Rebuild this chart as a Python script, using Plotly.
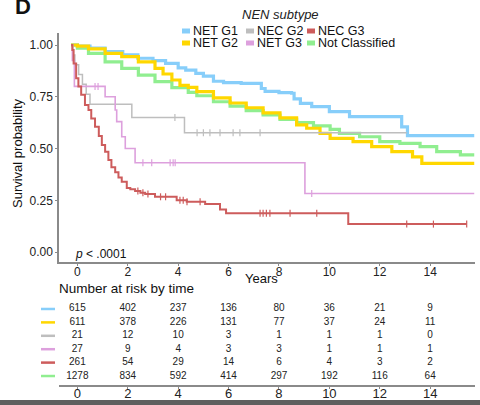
import numpy as np
import plotly.graph_objects as go

W, H = 480, 405
FONT = "Liberation Sans, Arial, sans-serif"

groups = ["NET G1", "NET G2", "NEC G2", "NET G3", "NEC G3", "Not Classified"]
colors = ["#87CEFA", "#FFD700", "#BEBEBE", "#DDA0DD", "#CD5C5C", "#90EE90"]

# Kaplan-Meier step points (years, survival)
t_net_g1 = [-0.25, 0.0, 0.5, 1.1, 1.8, 2.4, 3.0, 3.5, 4.0, 4.3, 4.7, 5.0, 5.4, 5.8, 6.5,
            7.3, 7.45, 8.0, 8.5, 8.6, 8.85, 9.3, 10.0, 10.8, 12.87, 13.1, 15.75]
s_net_g1 = [1.0, 0.995, 0.985, 0.968, 0.952, 0.936, 0.925, 0.911, 0.89, 0.879, 0.863, 0.85,
            0.825, 0.818, 0.815, 0.79, 0.776, 0.77, 0.767, 0.74, 0.718, 0.702, 0.678, 0.654,
            0.605, 0.562, 0.562]

t_net_g2 = [-0.25, 0.0, 0.44, 1.1, 1.76, 2.42, 3.08, 3.4, 3.75, 4.07, 4.4, 4.74, 5.4, 6.06,
            6.7, 7.37, 8.04, 8.7, 9.1, 9.63, 10.03, 10.94, 11.68, 12.48, 13.3, 13.67, 15.75]
s_net_g2 = [1.0, 0.995, 0.981, 0.96, 0.944, 0.919, 0.887, 0.86, 0.831, 0.805, 0.795, 0.775,
            0.745, 0.72, 0.697, 0.672, 0.648, 0.614, 0.598, 0.573, 0.549, 0.533, 0.509,
            0.485, 0.46, 0.428, 0.428]

t_nec_g2 = [-0.25, -0.18, -0.1, 0.05, 0.2, 0.35, 0.5, 2.16, 4.25, 13.07]
s_nec_g2 = [1.0, 0.952, 0.905, 0.857, 0.81, 0.762, 0.714, 0.65, 0.576, 0.576]

t_net_g3 = [-0.25, -0.2, -0.12, 1.1, 1.5, 1.56, 1.76, 1.9, 2.29, 9.03, 15.75]
s_net_g3 = [1.0, 0.926, 0.80, 0.75, 0.686, 0.63, 0.557, 0.50, 0.431, 0.283, 0.283]

t_nec_g3 = [-0.25, -0.2, -0.15, -0.05, 0.04, 0.15, 0.3, 0.44, 0.55, 0.7, 0.85, 0.97, 1.1,
            1.23, 1.35, 1.5, 1.63, 1.76, 1.96, 2.1, 2.29, 2.5, 2.69, 3.08, 3.94, 4.34, 5.07,
            5.66, 5.9, 10.75, 15.45]
s_nec_g3 = [1.0, 0.976, 0.911, 0.84, 0.8, 0.76, 0.71, 0.686, 0.645, 0.605, 0.56, 0.517,
            0.485, 0.445, 0.41, 0.385, 0.36, 0.34, 0.31, 0.303, 0.295, 0.287, 0.28, 0.267,
            0.25, 0.243, 0.232, 0.205, 0.187, 0.135, 0.135]

t_not_cls = [-0.25, 0.0, 0.44, 1.1, 1.76, 2.42, 3.08, 3.75, 4.4, 4.74, 5.4, 6.06, 6.7, 7.37,
             8.04, 8.7, 9.37, 10.03, 10.4, 11.2, 12.0, 12.8, 13.6, 14.26, 15.2, 15.75]
s_not_cls = [1.0, 0.985, 0.96, 0.919, 0.887, 0.855, 0.823, 0.794, 0.771, 0.755, 0.726, 0.705,
             0.683, 0.662, 0.641, 0.625, 0.609, 0.593, 0.573, 0.557, 0.533, 0.525, 0.509,
             0.485, 0.469, 0.469]

# censor marks (years) visible on the smaller groups
c_nec_g2 = [3.87, 4.75, 5.0, 5.26, 5.66, 6.18, 6.45, 7.25]
c_net_g3 = [0.7, 0.82, 2.6, 2.95, 3.68, 3.8, 3.88, 9.3]
c_nec_g3 = [2.4, 2.6, 2.8, 3.3, 3.5, 4.07, 4.2, 4.35, 4.87, 7.25, 7.37, 7.5, 7.64, 8.44,
            9.5, 13.07, 14.13, 15.45]

risk_times = [0, 2, 4, 6, 8, 10, 12, 14]
risk_net_g1 = [615, 402, 237, 136, 80, 36, 21, 9]
risk_net_g2 = [611, 378, 226, 131, 77, 37, 24, 11]
risk_nec_g2 = [21, 12, 10, 3, 1, 1, 1, 0]
risk_net_g3 = [27, 9, 4, 3, 3, 1, 1, 1]
risk_nec_g3 = [261, 54, 29, 14, 6, 4, 3, 2]
risk_not_cls = [1278, 834, 592, 414, 297, 192, 116, 64]

x_ticks = [0, 2, 4, 6, 8, 10, 12, 14]
y_ticks = [0, 0.25, 0.5, 0.75, 1.0]
y_ticklabels = ["0.00", "0.25", "0.50", "0.75", "1.00"]

curves = [(t_net_g1, s_net_g1, None, 3.2), (t_net_g2, s_net_g2, None, 3.2),
          (t_nec_g2, s_nec_g2, c_nec_g2, 1.5), (t_net_g3, s_net_g3, c_net_g3, 1.6),
          (t_nec_g3, s_nec_g3, c_nec_g3, 2.0), (t_not_cls, s_not_cls, None, 3.2)]
risks = [risk_net_g1, risk_net_g2, risk_nec_g2, risk_net_g3, risk_nec_g3, risk_not_cls]


def px(x):
    return x / W


def py(y):
    return 1 - y / H


def step_value(t, s, c):
    idx = np.searchsorted(np.array(t), c, side="right") - 1
    return float(np.array(s)[max(idx, 0)])


fig = go.Figure()
draw_order = [5, 0, 1, 2, 3, 4]
for i in draw_order:
    t, s, cens, w = curves[i]
    fig.add_trace(go.Scatter(x=t, y=s, mode="lines", line=dict(color=colors[i], width=w, shape="hv"),
                             showlegend=False, hoverinfo="skip", xaxis="x", yaxis="y"))
    if cens:
        fig.add_trace(go.Scatter(x=cens, y=[step_value(t, s, c) for c in cens], mode="markers",
                                 marker=dict(symbol="line-ns", size=5, line=dict(color=colors[i], width=1.2)),
                                 showlegend=False, hoverinfo="skip", xaxis="x", yaxis="y"))

# risk table
for i, r in enumerate(risks):
    fig.add_trace(go.Scatter(x=risk_times, y=[i + 1] * len(r), mode="text", text=[str(v) for v in r],
                             textfont=dict(size=10, color="#222222", family=FONT),
                             showlegend=False, hoverinfo="skip", xaxis="x2", yaxis="y2"))

xdom = [px(59), px(475)]
xr = [-0.73, 15.78]
axis_line = dict(showline=True, linecolor="#8a8a8a", linewidth=1.5, showgrid=False, zeroline=False,
                 ticks="outside", ticklen=2, tickcolor="#8a8a8a", tickfont=dict(size=12, color="#222222"))

fig.update_layout(
    width=W, height=H, margin=dict(l=0, r=0, t=0, b=0),
    paper_bgcolor="white", plot_bgcolor="white",
    font=dict(family=FONT, color="#222222"),
    xaxis=dict(domain=xdom, range=xr, tickvals=x_ticks, anchor="y", ticklabelstandoff=-4, **axis_line),
    yaxis=dict(domain=[py(262), py(33)], range=[-0.048, 1.058], tickvals=y_ticks,
               ticktext=y_ticklabels, anchor="x", **axis_line),
    xaxis2=dict(domain=xdom, range=xr, tickvals=x_ticks, anchor="y2", ticklabelstandoff=-6,
                **{**axis_line, "tickfont": dict(size=13, color="#222222")}),
    yaxis2=dict(domain=[py(385), py(300)], range=[6.67, 0.33], anchor="x2", visible=False),
)

shapes = []
ann = []
# risk table colour keys
for i in range(6):
    shapes.append(dict(type="line", xref="paper", yref="y2", x0=px(41), x1=px(55), y0=i + 1, y1=i + 1,
                       line=dict(color=colors[i], width=2.5)))

# legend (column-wise like ggplot)
leg_cols = [182, 246, 307]
leg_rows = [31, 43]
for i, g in enumerate(groups):
    col, row = i // 2, i % 2
    x0, yc = leg_cols[col], leg_rows[row]
    shapes.append(dict(type="rect", xref="paper", yref="paper", x0=px(x0), x1=px(x0 + 8),
                       y0=py(yc + 2.5), y1=py(yc - 2.5), fillcolor=colors[i], line=dict(width=0)))
    ann.append(dict(text=g, xref="paper", yref="paper", x=px(x0 + 9), y=py(yc), xanchor="left",
                    yanchor="middle", showarrow=False, font=dict(size=12.5, color="#111111")))
ann.append(dict(text="<i>NEN subtype</i>", xref="paper", yref="paper", x=px(280), y=py(15),
                xanchor="center", yanchor="middle", showarrow=False, font=dict(size=13, color="#222222")))

# bottom bar
shapes.append(dict(type="rect", xref="paper", yref="paper", x0=0, x1=1, y0=0, y1=py(400),
                   fillcolor="#5f5f5f", line=dict(width=0)))

ann += [
    dict(text="<b>D</b>", xref="paper", yref="paper", x=px(23), y=py(7), xanchor="center",
         yanchor="middle", showarrow=False, font=dict(size=22, color="#111111")),
    dict(text="Survival probability", xref="paper", yref="paper", x=px(17), y=py(153), textangle=-90,
         xanchor="center", yanchor="middle", showarrow=False, font=dict(size=13, color="#111111")),
    dict(text="<i>p</i> < .0001", xref="paper", yref="paper", x=px(73), y=py(254), xanchor="left",
         yanchor="middle", showarrow=False, font=dict(size=12, color="#111111")),
    dict(text="Years", xref="paper", yref="paper", x=px(261), y=py(278), xanchor="center",
         yanchor="middle", showarrow=False, font=dict(size=13, color="#111111")),
    dict(text="Number at risk by time", xref="paper", yref="paper", x=px(57), y=py(288), xanchor="left",
         yanchor="middle", showarrow=False, font=dict(size=13.5, color="#111111")),
]
fig.update_layout(shapes=shapes, annotations=ann)
fig.write_html("out.html", config={"displayModeBar": False},
               post_script="document.body.style.margin='0';")
